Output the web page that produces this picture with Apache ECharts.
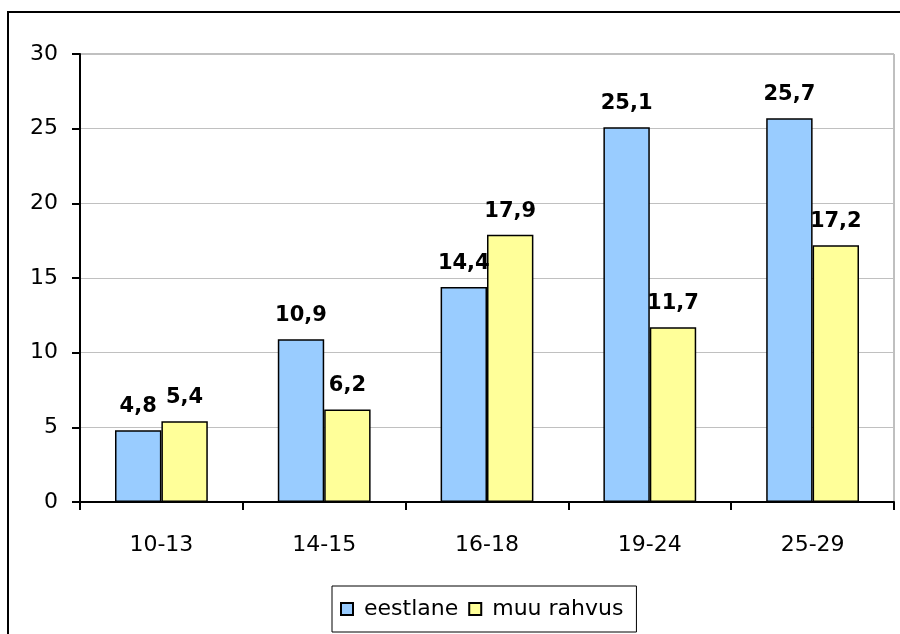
<!DOCTYPE html>
<html>
<head>
<meta charset="utf-8">
<script src="https://cdn.jsdelivr.net/npm/echarts@6/dist/echarts.min.js"></script>
<style>
  html, body { margin: 0; padding: 0; background: #fff; }
  #chart { width: 900px; height: 634px; }
</style>
</head>
<body>
<div id="chart"></div>
<script>
const categories = ['10-13', '14-15', '16-18', '19-24', '25-29']
const eestlane = [4.8, 10.9, 14.4, 25.1, 25.7]
const muuRahvus = [5.4, 6.2, 17.9, 11.7, 17.2]
const seriesNames = ['eestlane', 'muu rahvus']

const FONT = 'DejaVu Sans, Arial'

const chart = echarts.init(document.getElementById('chart'))

// sildid komaga nagu originaalis
const labelFmt = p => String(p.value).replace('.', ',')

const label = {
    show: true,
    position: 'top',
    distance: 13,
    color: '#000',
    fontFamily: FONT,
    fontWeight: 'bold',
    fontSize: 21,
    formatter: labelFmt
}

chart.setOption({
    backgroundColor: '#fff',
    animation: false,
    graphic: [{
        type: 'rect',
        shape: { x: 8, y: 12, width: 1000, height: 700 },
        style: { fill: 'none', stroke: '#000', lineWidth: 2 },
        silent: true
    }],
    grid: {
        left: 80,
        right: 6,
        top: 54,
        bottom: 132,
        show: true,
        borderColor: '#808080',
        borderWidth: 1
    },
    legend: {
        data: seriesNames,
        left: 332,
        top: 586,
        icon: 'rect',
        itemWidth: 12,
        itemHeight: 12,
        itemGap: 10,
        padding: [12, 13, 12, 8],
        borderColor: '#000',
        borderWidth: 1,
        textStyle: {
            color: '#000',
            fontFamily: FONT,
            fontSize: 22,
            padding: [0, 0, 0, 6]
        }
    },
    xAxis: {
        type: 'category',
        data: categories,
        axisLine: { lineStyle: { color: '#000', width: 2 } },
        axisTick: { show: true, length: 8, lineStyle: { color: '#000', width: 2 } },
        axisLabel: {
            color: '#000',
            fontFamily: FONT,
            fontSize: 22,
            margin: 32
        }
    },
    yAxis: {
        type: 'value',
        min: 0,
        max: 30,
        interval: 5,
        axisLine: { show: true, lineStyle: { color: '#000', width: 2 } },
        axisTick: { show: true, length: 8, lineStyle: { color: '#000', width: 2 } },
        axisLabel: {
            color: '#000',
            fontFamily: FONT,
            fontSize: 22,
            margin: 22
        },
        splitLine: { lineStyle: { color: '#c0c0c0', width: 1 } }
    },
    series: [
        {
            name: seriesNames[0],
            type: 'bar',
            data: eestlane,
            barGap: '0%',
            barCategoryGap: '43%',
            itemStyle: { color: '#99ccff', borderColor: '#000', borderWidth: 1.5 },
            label: label
        },
        {
            name: seriesNames[1],
            type: 'bar',
            data: muuRahvus,
            itemStyle: { color: '#ffff99', borderColor: '#000', borderWidth: 1.5 },
            label: label
        }
    ]
})
</script>
</body>
</html>
